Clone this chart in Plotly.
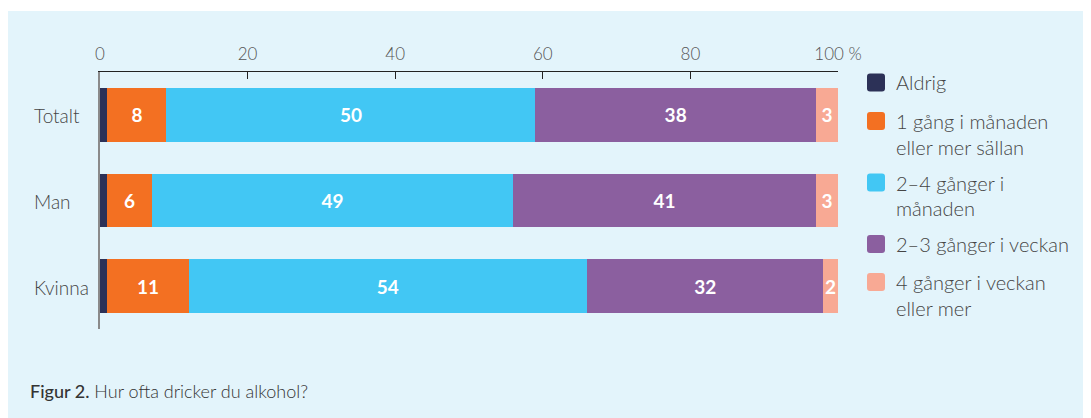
import plotly.graph_objects as go

categories = ["Totalt", "Man", "Kvinna"]
series_names = [
    "Aldrig",
    "1 gång i månaden<br>eller mer sällan",
    "2–4 gånger i<br>månaden",
    "2–3 gånger i veckan",
    "4 gånger i veckan<br>eller mer",
]
aldrig = [1, 1, 1]
en_gang = [8, 6, 11]
two_four_month = [50, 49, 54]
two_three_week = [38, 41, 32]
four_week = [3, 3, 2]
series_values = [aldrig, en_gang, two_four_month, two_three_week, four_week]
show_labels = [False, True, True, True, True]
colors = ["#2c3157", "#f37022", "#42c7f4", "#8b5f9f", "#f8a994"]
tick_vals = [0, 20, 40, 60, 80, 100]
tick_text = ["0", "20", "40", "60", "80", "100 %"]
caption_bold = "Figur 2."
caption_rest = "Hur ofta dricker du alkohol?"

# page offset from default body margin
OFF = 8
PAGE_W, PAGE_H = 1091, 418
W, H = PAGE_W - OFF, PAGE_H - OFF
# plot area in page pixels: x 100..838, y 72..329
ML = 100 - OFF
MR = PAGE_W - 838
MT = 72 - OFF
MB = PAGE_H - 329
PW = W - ML - MR
PH = H - MT - MB


def px_x(px):
    return (px - 100) / PW


def px_y(py):
    return (329 - py) / PH


FONT = "Lato"
TXT = "#454545"

fig = go.Figure()
for name, vals, lab, col in zip(series_names, series_values, show_labels, colors):
    fig.add_trace(go.Bar(
        y=categories, x=vals, name=name, orientation="h",
        marker=dict(color=col, line=dict(width=0)),
        text=[str(v) for v in vals] if lab else None,
        textposition="inside" if lab else "none",
        insidetextanchor="middle",
        textangle=0,
        textfont=dict(family=FONT, size=19, color="white", weight=700),
        showlegend=False,
        hoverinfo="x+y",
    ))

shapes = [dict(type="rect", xref="paper", yref="paper",
               x0=px_x(6), x1=px_x(PAGE_W + 5), y0=px_y(PAGE_H + 5), y1=px_y(11),
               fillcolor="#e3f4fb", line=dict(width=0), layer="below")]
annotations = []

# y category labels (left aligned)
for c in categories:
    annotations.append(dict(xref="paper", yref="y", x=px_x(32), y=c,
                            xanchor="left", yanchor="middle", yshift=-1,
                            text=c, showarrow=False,
                            font=dict(family=FONT, size=19, color=TXT, weight=300)))

# legend
legend_centers = [82.5, 121, 182.5, 244, 282]
for name, col, cy in zip(series_names, colors, legend_centers):
    r = 3
    s = 18
    path = (f"M {r},0 L {s-r},0 Q {s},0 {s},{r} L {s},{s-r} Q {s},{s} {s-r},{s} "
            f"L {r},{s} Q 0,{s} 0,{s-r} L 0,{r} Q 0,0 {r},0 Z")
    shapes.append(dict(type="path", xref="paper", yref="paper",
                       xsizemode="pixel", ysizemode="pixel",
                       xanchor=px_x(867), yanchor=px_y(cy + 9),
                       path=path, fillcolor=col, line=dict(width=0)))
    for i, line in enumerate(name.split("<br>")):
        annotations.append(dict(xref="paper", yref="paper",
                                x=px_x(894), y=px_y(cy + i * 25.5),
                                xanchor="left", yanchor="middle",
                                text=line, showarrow=False,
                                font=dict(family=FONT, size=20, color=TXT, weight=300)))

annotations.append(dict(xref="paper", yref="paper", x=px_x(28), y=px_y(391),
                        xanchor="left", yanchor="middle", showarrow=False,
                        text=f"<span style='font-weight:500'>{caption_bold}</span> {caption_rest}",
                        font=dict(family=FONT, size=18, color="#333333", weight=300)))

fig.update_layout(
    width=W, height=H,
    margin=dict(l=ML, r=MR, t=MT, b=MB, pad=0),
    barmode="stack", bargap=0.37,
    paper_bgcolor="white", plot_bgcolor="rgba(0,0,0,0)",
    showlegend=False,
    uniformtext=dict(minsize=19, mode="show"),
    xaxis=dict(side="top", range=[0, 100], tickvals=tick_vals, ticktext=tick_text,
               ticks="inside", ticklen=7, tickcolor="#222222", tickwidth=1,
               showline=True, linecolor="#222222", linewidth=1,
               showgrid=False, zeroline=False, ticklabelstandoff=4,
               tickfont=dict(family=FONT, size=17, color="#555555", weight=300)),
    yaxis=dict(categoryorder="array", categoryarray=categories, autorange="reversed",
               showticklabels=False, ticks="", showline=True, linecolor="#8a8a8a",
               linewidth=1.5, showgrid=False, zeroline=False),
    shapes=shapes, annotations=annotations,
)

fig.write_html("out.html")
